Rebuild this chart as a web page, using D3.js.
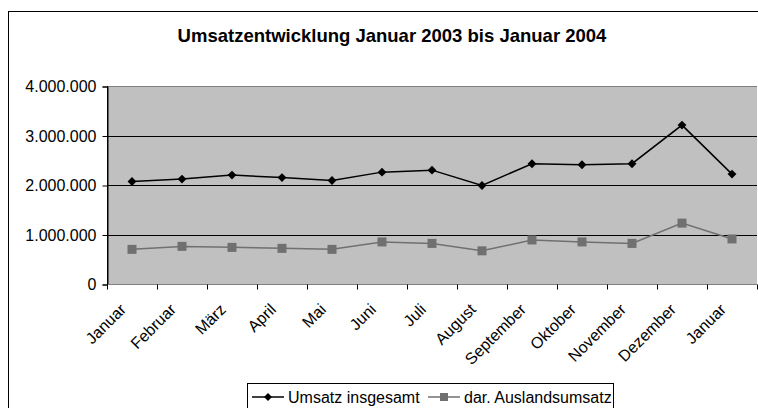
<!DOCTYPE html>
<html>
<head>
<meta charset="utf-8">
<script src="https://cdn.jsdelivr.net/npm/d3@7"></script>
<style>
body { margin: 0; background: #fff; }
text { font-family: "Liberation Sans", Arial, sans-serif; }
</style>
</head>
<body>
<script>
// Monate (Januar 2003 bis Januar 2004)
var months = ['Januar', 'Februar', 'März', 'April', 'Mai', 'Juni', 'Juli', 'August',
  'September', 'Oktober', 'November', 'Dezember', 'Januar'];
var umsatz = [2070000, 2120000, 2200000, 2150000, 2090000, 2260000, 2300000, 1990000,
  2430000, 2410000, 2430000, 3210000, 2220000];
var ausland = [700000, 760000, 740000, 720000, 700000, 850000, 820000, 670000,
  890000, 850000, 820000, 1230000, 910000];
var yTicks = [0, 1000000, 2000000, 3000000, 4000000];

var width = 758, height = 408;
var plot = {left: 107, right: 757, top: 86, bottom: 284};

var de = d3.formatLocale({decimal: ",", thousands: ".", grouping: [3], currency: ["", " €"]});
var fmt = de.format(",");

var svg = d3.select("body").append("svg")
  .attr("width", width)
  .attr("height", height);

// Rahmen
svg.append("rect")
  .attr("x", 8.5).attr("y", 11.5)
  .attr("width", 800).attr("height", 500)
  .attr("fill", "#fff")
  .attr("stroke", "#000");

svg.append("text")
  .attr("x", 392).attr("y", 42)
  .attr("text-anchor", "middle")
  .attr("font-size", 18.5)
  .attr("font-weight", "bold")
  .text("Umsatzentwicklung Januar 2003 bis Januar 2004");

var x = d3.scaleBand()
  .domain(d3.range(months.length))
  .range([plot.left, plot.right]);

var y = d3.scaleLinear()
  .domain([0, 4000000])
  .range([plot.bottom, plot.top]);

svg.append("rect")
  .attr("x", plot.left).attr("y", plot.top)
  .attr("width", plot.right - plot.left)
  .attr("height", plot.bottom - plot.top)
  .attr("fill", "#c0c0c0");

// Gitternetz
svg.append("g")
  .selectAll("line")
  .data(yTicks.slice(1))
  .enter().append("line")
  .attr("x1", plot.left).attr("x2", plot.right)
  .attr("y1", function(d) { return Math.round(y(d)) + 0.5; })
  .attr("y2", function(d) { return Math.round(y(d)) + 0.5; })
  .attr("stroke", function(d) { return d == 4000000 ? "#808080" : "#000"; });

// y-Achse
var yAxis = svg.append("g")
  .attr("transform", "translate(" + (plot.left + 0.5) + ",0.5)")
  .call(d3.axisLeft(y).tickValues(yTicks).tickFormat(fmt).tickSize(5).tickPadding(6));
yAxis.select(".domain").attr("stroke", "#000");
yAxis.selectAll(".tick line").attr("stroke", "#000");
yAxis.selectAll("text").attr("font-size", 16).attr("fill", "#000")
  .attr("font-family", "Liberation Sans, Arial, sans-serif");

// x-Achse
var xAxis = svg.append("g")
  .attr("transform", "translate(0," + (plot.bottom + 0.5) + ")");
xAxis.append("line")
  .attr("x1", plot.left).attr("x2", plot.right)
  .attr("stroke", "#808080");
xAxis.selectAll("line.tk")
  .data(d3.range(months.length + 1))
  .enter().append("line")
  .attr("class", "tk")
  .attr("x1", function(i) { return Math.round(plot.left + i * x.bandwidth()) + 0.5; })
  .attr("x2", function(i) { return Math.round(plot.left + i * x.bandwidth()) + 0.5; })
  .attr("y1", 0).attr("y2", 5)
  .attr("stroke", "#000");
xAxis.selectAll("text")
  .data(months)
  .enter().append("text")
  .attr("transform", function(d, i) {
    return "translate(" + (x(i) + x.bandwidth() / 2 - 9) + ",22) rotate(-45)";
  })
  .attr("text-anchor", "end")
  .attr("dy", "0.35em")
  .attr("font-size", 16)
  .text(function(d) { return d; });

var line = d3.line()
  .x(function(d, i) { return x(i) + x.bandwidth() / 2; })
  .y(function(d) { return y(d); });

svg.append("path")
  .datum(ausland)
  .attr("d", line)
  .attr("fill", "none")
  .attr("stroke", "#707070")
  .attr("stroke-width", 1.5);

svg.append("g").selectAll("rect")
  .data(ausland)
  .enter().append("rect")
  .attr("x", function(d, i) { return x(i) + x.bandwidth() / 2 - 4.5; })
  .attr("y", function(d) { return y(d) - 4.5; })
  .attr("width", 9).attr("height", 9)
  .attr("fill", "#707070");

svg.append("path")
  .datum(umsatz)
  .attr("d", line)
  .attr("fill", "none")
  .attr("stroke", "#000")
  .attr("stroke-width", 1.5);

var diamond = d3.symbol().type(d3.symbolDiamond2).size(50);
svg.append("g").selectAll("path")
  .data(umsatz)
  .enter().append("path")
  .attr("d", diamond)
  .attr("transform", function(d, i) {
    return "translate(" + (x(i) + x.bandwidth() / 2) + "," + y(d) + ")";
  })
  .attr("fill", "#000");

// y-Achsenlinie oben drauf
svg.append("line")
  .attr("x1", plot.left + 0.5).attr("x2", plot.left + 0.5)
  .attr("y1", plot.top).attr("y2", plot.bottom + 1)
  .attr("stroke", "#000");

// Legende
var leg = svg.append("g");
leg.append("rect")
  .attr("x", 247.5).attr("y", 383.5)
  .attr("width", 366).attr("height", 40)
  .attr("fill", "#fff").attr("stroke", "#000");

var legItems = [
  {name: "Umsatz insgesamt", x: 252, color: "#000", mark: "diamond"},
  {name: "dar. Auslandsumsatz", x: 428, color: "#707070", mark: "square"}
];
var ly = 397;
legItems.forEach(function(it) {
  leg.append("line")
    .attr("x1", it.x).attr("x2", it.x + 32)
    .attr("y1", ly).attr("y2", ly)
    .attr("stroke", it.color).attr("stroke-width", 1.5);
  if (it.mark == "diamond") {
    leg.append("path")
      .attr("d", d3.symbol().type(d3.symbolDiamond2).size(40))
      .attr("transform", "translate(" + (it.x + 16) + "," + ly + ")")
      .attr("fill", it.color);
  } else {
    leg.append("rect")
      .attr("x", it.x + 12).attr("y", ly - 4)
      .attr("width", 8).attr("height", 8)
      .attr("fill", it.color);
  }
  leg.append("text")
    .attr("x", it.x + 36).attr("y", ly)
    .attr("dy", "0.35em")
    .attr("font-size", 16)
    .text(it.name);
});
</script>
</body>
</html>
